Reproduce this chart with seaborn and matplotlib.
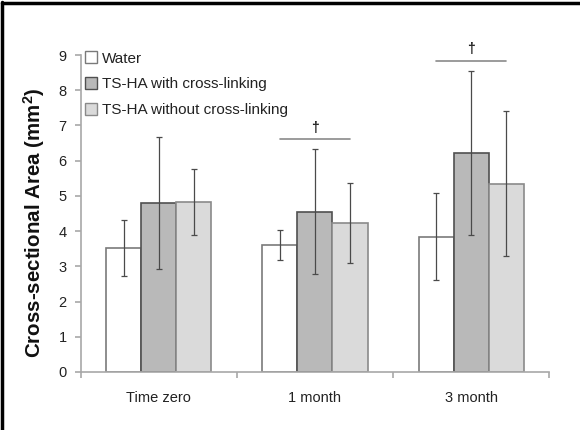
import matplotlib
matplotlib.use("Agg")
import matplotlib.pyplot as plt
import matplotlib.lines as mlines
import numpy as np
import pandas as pd
import seaborn as sns

# Cross-sectional area by time point and treatment
timepoints = ["Time zero", "1 month", "3 month"]
groups = ["Water", "TS-HA with cross-linking", "TS-HA without cross-linking"]
water_mean = [3.52, 3.60, 3.84]
water_sd = [0.79, 0.43, 1.23]
with_xl_mean = [4.80, 4.55, 6.22]
with_xl_sd = [1.88, 1.78, 2.33]
without_xl_mean = [4.82, 4.23, 5.35]
without_xl_sd = [0.93, 1.15, 2.06]

# Significance markers (dagger) over groups
sig_timepoints = ["1 month", "3 month"]
sig_levels = [6.61, 8.84]

means = [water_mean, with_xl_mean, without_xl_mean]
sds = [water_sd, with_xl_sd, without_xl_sd]
rows = []
for g, m_list, s_list in zip(groups, means, sds):
    for t, m, s in zip(timepoints, m_list, s_list):
        rows.append({"time": t, "group": g, "area": m, "sd": s})
df = pd.DataFrame(rows)

sns.set_theme(style="white")
plt.rcParams["font.family"] = ["Liberation Sans", "DejaVu Sans"]

fills = ["#ffffff", "#b9b9b9", "#dadada"]
edges = ["#7a7a7a", "#505050", "#8a8a8a"]

fig = plt.figure(figsize=(5.8, 4.3), dpi=100)
ax = fig.add_axes([0.139, 0.135, 0.808, 0.737])

sns.barplot(data=df, x="time", y="area", hue="group", order=timepoints,
            hue_order=groups, palette=fills, width=0.673, errorbar=None,
            dodge=True, gap=0, ax=ax, legend=False, zorder=2)

# Recolor edges per series and add SD error bars at each bar centre
bar_containers = list(ax.containers)
bar_centres = {}
for gi, cont in enumerate(bar_containers):
    for ti, patch in enumerate(cont.patches):
        patch.set_edgecolor(edges[gi])
        patch.set_linewidth(1.2)
        cx = patch.get_x() + patch.get_width() / 2
        bar_centres[(gi, ti)] = cx
        ax.errorbar(cx, means[gi][ti], yerr=sds[gi][ti], fmt="none",
                    ecolor="#4a4a4a", elinewidth=0.9, capsize=2.2,
                    capthick=0.9, zorder=3)

# Significance bars from the Water bar to the last bar of the group
for t, lvl in zip(sig_timepoints, sig_levels):
    ti = timepoints.index(t)
    x0, x1 = bar_centres[(0, ti)], bar_centres[(2, ti)]
    ax.plot([x0, x1], [lvl, lvl], color="#8a8a8a", lw=1.2, zorder=3)
    ax.text((x0 + x1) / 2, lvl + 0.12, "\u2020", ha="center", va="bottom",
            fontsize=10, fontweight="bold", color="#222222")

ax.set_xlim(-0.5, 2.5)
ax.set_ylim(0, 9)
ax.set_yticks(range(0, 10))
ax.set_xlabel("")
ax.set_ylabel("Cross-sectional Area (mm$\\mathregular{^2}$)", fontsize=14.8,
              fontweight="bold", color="#111111")
ax.yaxis.set_label_coords(-0.071, 0.47)

for s in ["top", "right"]:
    ax.spines[s].set_visible(False)
for s in ["left", "bottom"]:
    ax.spines[s].set_color("#a8a8a8")
    ax.spines[s].set_linewidth(1.2)

ax.set_xticks([-0.5, 0.5, 1.5, 2.5], minor=True)
ax.tick_params(axis="x", which="major", length=0, pad=14, labelsize=10.5,
               labelcolor="#222222")
ax.tick_params(axis="x", which="minor", length=4, width=1.2, color="#a8a8a8",
               direction="out", bottom=True)
ax.tick_params(axis="y", length=4, width=1.2, color="#a8a8a8", direction="out",
               left=True, pad=6, labelsize=10.5, labelcolor="#222222")

# Legend with square swatches
handles = [mlines.Line2D([], [], marker="s", linestyle="none", markersize=8,
                         markerfacecolor=f, markeredgecolor=e,
                         markeredgewidth=1.0)
           for f, e in zip(fills, edges)]
ax.legend(handles, groups, loc="upper left", bbox_to_anchor=(0.01, 1.011),
          frameon=False, fontsize=11, handlelength=0.8, handletextpad=0.3,
          labelspacing=0.78, borderpad=0, borderaxespad=0,
          labelcolor="#222222")

# Outer frame lines along the top and left edges
fig.add_artist(mlines.Line2D([0.004, 0.004], [0, 0.996], color="black",
                             lw=2.5, transform=fig.transFigure))
fig.add_artist(mlines.Line2D([0.004, 1.0], [0.994, 0.994], color="black",
                             lw=2.5, transform=fig.transFigure))

fig.savefig("out.png", dpi=100)
